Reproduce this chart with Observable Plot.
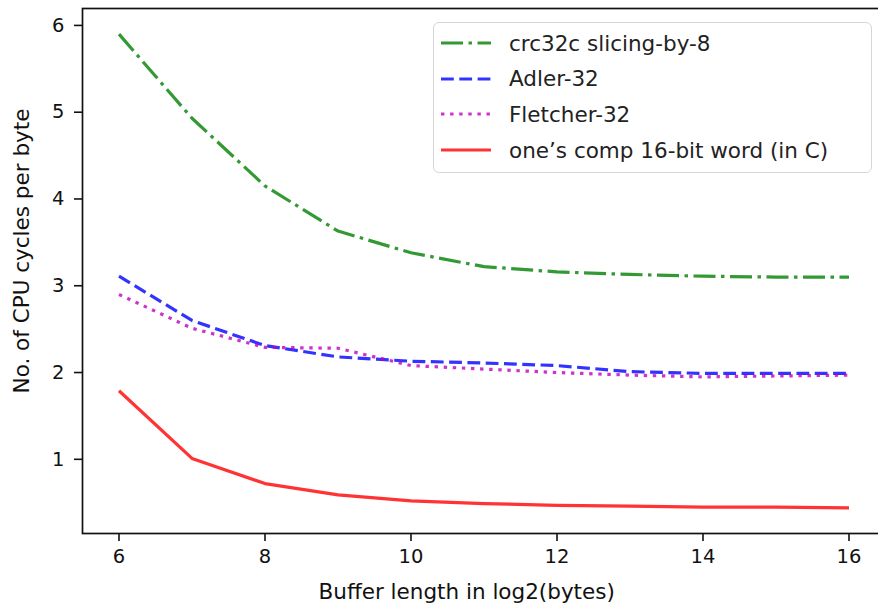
<!DOCTYPE html>
<html>
<head>
<meta charset="utf-8">
<script src="https://cdn.jsdelivr.net/npm/d3@7"></script>
<script src="https://cdn.jsdelivr.net/npm/@observablehq/plot@0.6"></script>
<style>
  html, body { margin: 0; padding: 0; background: #fff; overflow: hidden; }
  #wrap { position: relative; width: 878px; height: 605px; overflow: hidden; }
  #legend {
    position: absolute; left: 433px; top: 22px; width: 437px; height: 149px;
    border: 1.5px solid #d6d6d6; border-radius: 6px; background: rgba(255,255,255,0.8);
    font-family: "DejaVu Sans", sans-serif; font-size: 21.5px; color: #222;
  }
  .row { position: absolute; left: 0; height: 36px; display: flex; align-items: center; }
  .row svg { margin-left: 7px; margin-right: 18px; }
</style>
</head>
<body>
<div id="wrap"><div id="chart"></div><div id="legend"></div></div>
<script>
// Data
const bufferLog2 = [6, 7, 8, 9, 10, 11, 12, 13, 14, 15, 16];
const crc32c   = [5.90, 4.93, 4.15, 3.63, 3.38, 3.22, 3.16, 3.13, 3.11, 3.10, 3.10];
const adler32  = [3.11, 2.60, 2.31, 2.18, 2.13, 2.11, 2.08, 2.01, 1.99, 1.99, 1.99];
const fletcher = [2.90, 2.51, 2.29, 2.28, 2.08, 2.04, 2.00, 1.97, 1.95, 1.96, 1.97];
const onesComp = [1.79, 1.01, 0.72, 0.59, 0.52, 0.49, 0.47, 0.46, 0.45, 0.45, 0.44];
const seriesNames = ["crc32c slicing-by-8", "Adler-32", "Fletcher-32", "one\u2019s comp 16-bit word (in C)"];
const seriesColors = ["#008000", "#0000ff", "#bf00bf", "#ff0000"];
const seriesDash = ["22,5.5,3.5,5.5", "12.8,5.5", "3.4,5.7", null];
const xTicks = [6, 8, 10, 12, 14, 16];
const yTicks = [1, 2, 3, 4, 5, 6];
const xLabel = "Buffer length in log2(bytes)";
const yLabel = "No. of CPU cycles per byte";

const allValues = [crc32c, adler32, fletcher, onesComp];
const series = allValues.map((vals, i) => vals.map((v, j) => ({x: bufferLog2[j], y: v, name: seriesNames[i]})));

const lineMarks = series.map((d, i) => Plot.line(d, {
  x: "x", y: "y", stroke: seriesColors[i], strokeOpacity: 0.8, strokeWidth: 3.2,
  strokeDasharray: seriesDash[i] || undefined, strokeLinecap: "butt", strokeLinejoin: "round"
}));

const chart = Plot.plot({
  width: 878, height: 605,
  marginLeft: 82, marginRight: -7, marginTop: 8, marginBottom: 72,
  style: {fontFamily: "DejaVu Sans, sans-serif", fontSize: "19px", color: "#111", background: "white"},
  x: {domain: [5.5, 16.5]},
  y: {domain: [0.145, 6.195]},
  marks: [
    ...lineMarks,
    Plot.frame({stroke: "#111", strokeWidth: 1.7}),
    Plot.axisX({ticks: xTicks, tickFormat: d3.format("d"), tickSize: 8, tickPadding: 8, label: null, fontSize: 19.5, strokeWidth: 1.6}),
    Plot.axisY({ticks: yTicks, tickFormat: d3.format("d"), tickSize: 8, tickPadding: 10, label: null, fontSize: 19.5, strokeWidth: 1.6}),
    Plot.text([xLabel], {text: d => d, frameAnchor: "bottom-left", textAnchor: "start", lineAnchor: "bottom", dx: 236, dy: 65, fontSize: 21.5, fill: "#111"}),
    Plot.text([yLabel], {text: d => d, frameAnchor: "left", textAnchor: "middle", lineAnchor: "bottom", rotate: -90, dx: -54, dy: -20, fontSize: 21.5, fill: "#111"})
  ]
});
document.getElementById("chart").appendChild(chart);

// Legend
const legend = document.getElementById("legend");
seriesNames.forEach((name, i) => {
  const row = document.createElement("div");
  row.className = "row";
  row.style.top = (2 + i * 35.7) + "px";
  const ns = "http://www.w3.org/2000/svg";
  const svg = document.createElementNS(ns, "svg");
  svg.setAttribute("width", 50); svg.setAttribute("height", 10);
  const ln = document.createElementNS(ns, "line");
  ln.setAttribute("x1", 0); ln.setAttribute("x2", 50); ln.setAttribute("y1", 5); ln.setAttribute("y2", 5);
  ln.setAttribute("stroke", seriesColors[i]); ln.setAttribute("stroke-opacity", 0.8);
  ln.setAttribute("stroke-width", 3.2);
  if (seriesDash[i]) ln.setAttribute("stroke-dasharray", seriesDash[i]);
  svg.appendChild(ln);
  const span = document.createElement("span");
  span.textContent = name;
  row.appendChild(svg); row.appendChild(span);
  legend.appendChild(row);
});
</script>
</body>
</html>
